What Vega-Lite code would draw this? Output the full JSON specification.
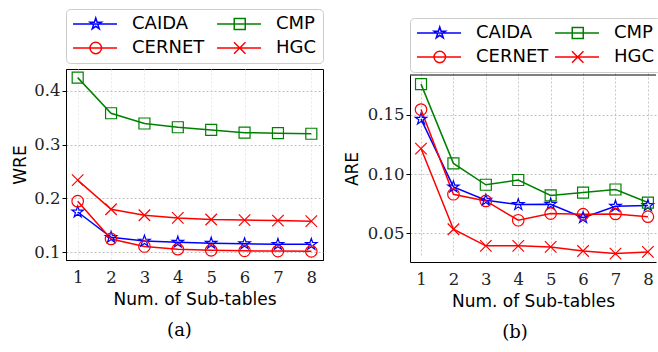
{
  "$schema": "https://vega.github.io/schema/vega-lite/v6.json",
  "padding": {"left": 11, "top": 8, "right": 0, "bottom": 0},
  "spacing": 19,
  "config": {
    "view": {"stroke": "black", "strokeWidth": 1},
    "axis": {"domainColor": "black", "domainWidth": 1, "tickColor": "black", "tickSize": 4, "labelFont": "DejaVu Serif", "labelFontSize": 16.5, "labelColor": "#222222", "labelOverlap": false, "titleFont": "DejaVu Sans", "titleFontSize": 17, "titleFontWeight": "normal", "titleColor": "black", "gridDash": [2, 2], "gridColor": "#b0b0b0", "gridWidth": 0.8},
    "legend": {"orient": "none", "legendX": 0, "columns": 2, "labelFont": "DejaVu Sans", "labelFontSize": 18, "labelColor": "black", "labelOffset": 42, "columnPadding": 9, "rowPadding": 6, "padding": 6, "strokeColor": "#cccccc", "fillColor": "white", "cornerRadius": 4, "symbolSize": 100, "symbolStrokeWidth": 1.5},
    "title": {"font": "DejaVu Serif", "fontSize": 18, "fontWeight": "normal", "orient": "bottom", "frame": "group", "offset": 14, "color": "black"}
  },
  "hconcat": [
    {
      "width": 257,
      "height": 191,
      "title": {"text": "(a)", "dx": -15},
      "data": {"values": [
        {"dataset": "CAIDA", "tables": 1, "value": 0.175}, {"dataset": "CAIDA", "tables": 2, "value": 0.128}, {"dataset": "CAIDA", "tables": 3, "value": 0.121}, {"dataset": "CAIDA", "tables": 4, "value": 0.119}, {"dataset": "CAIDA", "tables": 5, "value": 0.117}, {"dataset": "CAIDA", "tables": 6, "value": 0.116}, {"dataset": "CAIDA", "tables": 7, "value": 0.115}, {"dataset": "CAIDA", "tables": 8, "value": 0.115},
        {"dataset": "CERNET", "tables": 1, "value": 0.195}, {"dataset": "CERNET", "tables": 2, "value": 0.125}, {"dataset": "CERNET", "tables": 3, "value": 0.111}, {"dataset": "CERNET", "tables": 4, "value": 0.106}, {"dataset": "CERNET", "tables": 5, "value": 0.104}, {"dataset": "CERNET", "tables": 6, "value": 0.103}, {"dataset": "CERNET", "tables": 7, "value": 0.1025}, {"dataset": "CERNET", "tables": 8, "value": 0.102},
        {"dataset": "CMP", "tables": 1, "value": 0.424}, {"dataset": "CMP", "tables": 2, "value": 0.358}, {"dataset": "CMP", "tables": 3, "value": 0.339}, {"dataset": "CMP", "tables": 4, "value": 0.332}, {"dataset": "CMP", "tables": 5, "value": 0.327}, {"dataset": "CMP", "tables": 6, "value": 0.322}, {"dataset": "CMP", "tables": 7, "value": 0.321}, {"dataset": "CMP", "tables": 8, "value": 0.32},
        {"dataset": "HGC", "tables": 1, "value": 0.234}, {"dataset": "HGC", "tables": 2, "value": 0.18}, {"dataset": "HGC", "tables": 3, "value": 0.169}, {"dataset": "HGC", "tables": 4, "value": 0.164}, {"dataset": "HGC", "tables": 5, "value": 0.161}, {"dataset": "HGC", "tables": 6, "value": 0.16}, {"dataset": "HGC", "tables": 7, "value": 0.159}, {"dataset": "HGC", "tables": 8, "value": 0.158}
      ]},
      "layer": [
        {
          "mark": {"type": "line", "strokeWidth": 1.5},
          "encoding": {
            "x": {"field": "tables", "type": "ordinal", "scale": {"type": "point", "padding": 0.35}, "axis": {"labelAngle": 0, "grid": true, "ticks": false, "labelPadding": 9, "titlePadding": 6, "gridColor": "#e2e2e2", "title": "Num. of Sub-tables"}},
            "y": {"field": "value", "type": "quantitative", "scale": {"domain": [0.086, 0.44], "nice": false, "zero": false}, "axis": {"values": [0.1, 0.2, 0.3, 0.4], "format": ".1f", "labelPadding": 2, "titlePadding": 4, "title": "WRE"}},
            "color": {"field": "dataset", "type": "nominal", "scale": {"domain": ["CAIDA", "CERNET", "CMP", "HGC"], "range": ["#0000ff", "#ff0000", "#008000", "#ff0000"]},
              "legend": {"title": null, "legendY": -60, "columnPadding": 9, "encode": {"symbols": {"update": {
                "shape": {"signal": "datum.value === 'CAIDA' ? 'M-1.6,0H7.2M2.95,-1.2L3.2204,-0.3721L4.0913,-0.3708L3.3875,0.1421L3.6553,0.9708L2.95,0.46L2.2447,0.9708L2.5125,0.1421L1.8087,-0.3708L2.6796,-0.3721Z' : datum.value === 'CMP' ? 'M-1.6,0H7.2M1.85,-1.1H4.05V1.1H1.85Z' : datum.value === 'CERNET' ? 'M-1.6,0H7.2M4.1,0A1.15,1.15,0,1,1,1.8,0A1.15,1.15,0,1,1,4.1,0Z' : 'M-1.6,0H7.2M1.8,-1.15L4.1,1.15M1.8,1.15L4.1,-1.15'"},
                "fill": {"value": "transparent"},
                "strokeWidth": {"value": 1.5}}}}}}
          }
        },
        {
          "mark": {"type": "point", "filled": false, "strokeWidth": 1.2, "size": 100, "opacity": 1},
          "encoding": {
            "x": {"field": "tables", "type": "ordinal"},
            "y": {"field": "value", "type": "quantitative"},
            "color": {"field": "dataset", "type": "nominal"},
            "shape": {"field": "dataset", "type": "nominal", "legend": null, "scale": {"domain": ["CAIDA", "CMP", "CERNET", "HGC"], "range": [
              "M0,-1.2L0.2704,-0.3721L1.1413,-0.3708L0.4375,0.1421L0.7053,0.9708L0,0.46L-0.7053,0.9708L-0.4375,0.1421L-1.1413,-0.3708L-0.2704,-0.3721Z",
              "M-1.1,-1.1H1.1V1.1H-1.1Z",
              "M1.15,0A1.15,1.15,0,1,1,-1.15,0A1.15,1.15,0,1,1,1.15,0Z",
              "M-1.15,-1.15L1.15,1.15M-1.15,1.15L1.15,-1.15"]}}
          }
        }
      ]
    },
    {
      "width": 246,
      "height": 193,
      "view": {"stroke": null},
      "title": {"text": "(b)", "dx": -18},
      "layer": [
        {
          "data": {"values": [
            {"dataset": "CAIDA", "tables": 1, "value": 0.1463}, {"dataset": "CAIDA", "tables": 2, "value": 0.0892}, {"dataset": "CAIDA", "tables": 3, "value": 0.078}, {"dataset": "CAIDA", "tables": 4, "value": 0.0743}, {"dataset": "CAIDA", "tables": 5, "value": 0.0746}, {"dataset": "CAIDA", "tables": 6, "value": 0.0633}, {"dataset": "CAIDA", "tables": 7, "value": 0.0729}, {"dataset": "CAIDA", "tables": 8, "value": 0.0735},
            {"dataset": "CERNET", "tables": 1, "value": 0.1544}, {"dataset": "CERNET", "tables": 2, "value": 0.083}, {"dataset": "CERNET", "tables": 3, "value": 0.0774}, {"dataset": "CERNET", "tables": 4, "value": 0.0611}, {"dataset": "CERNET", "tables": 5, "value": 0.0667}, {"dataset": "CERNET", "tables": 6, "value": 0.0662}, {"dataset": "CERNET", "tables": 7, "value": 0.0664}, {"dataset": "CERNET", "tables": 8, "value": 0.0641},
            {"dataset": "CMP", "tables": 1, "value": 0.1758}, {"dataset": "CMP", "tables": 2, "value": 0.109}, {"dataset": "CMP", "tables": 3, "value": 0.091}, {"dataset": "CMP", "tables": 4, "value": 0.095}, {"dataset": "CMP", "tables": 5, "value": 0.082}, {"dataset": "CMP", "tables": 6, "value": 0.0844}, {"dataset": "CMP", "tables": 7, "value": 0.087}, {"dataset": "CMP", "tables": 8, "value": 0.076},
            {"dataset": "HGC", "tables": 1, "value": 0.1215}, {"dataset": "HGC", "tables": 2, "value": 0.0535}, {"dataset": "HGC", "tables": 3, "value": 0.0395}, {"dataset": "HGC", "tables": 4, "value": 0.0395}, {"dataset": "HGC", "tables": 5, "value": 0.0386}, {"dataset": "HGC", "tables": 6, "value": 0.0352}, {"dataset": "HGC", "tables": 7, "value": 0.033}, {"dataset": "HGC", "tables": 8, "value": 0.0344}
          ]},
          "layer": [
            {
              "mark": {"type": "line", "strokeWidth": 1.5},
              "encoding": {
                "x": {"field": "tables", "type": "ordinal", "scale": {"type": "point", "padding": 0.295, "align": 0.576}, "axis": {"labelAngle": 0, "grid": true, "ticks": false, "labelPadding": 9, "titlePadding": 6, "gridColor": "#b8b8b8", "title": "Num. of Sub-tables"}},
                "y": {"field": "value", "type": "quantitative", "scale": {"domain": [0.0259, 0.1835], "range": [193, 6], "nice": false, "zero": false}, "axis": {"values": [0.05, 0.1, 0.15], "format": ".2f", "labelPadding": 2, "titlePadding": 6, "title": "ARE"}},
                "color": {"field": "dataset", "type": "nominal", "scale": {"domain": ["CAIDA", "CERNET", "CMP", "HGC"], "range": ["#0000ff", "#ff0000", "#008000", "#ff0000"]},
                  "legend": {"title": null, "legendY": -51, "columnPadding": 3, "encode": {"symbols": {"update": {
                    "shape": {"signal": "datum.value === 'CAIDA' ? 'M-1.6,0H7.2M2.95,-1.2L3.2204,-0.3721L4.0913,-0.3708L3.3875,0.1421L3.6553,0.9708L2.95,0.46L2.2447,0.9708L2.5125,0.1421L1.8087,-0.3708L2.6796,-0.3721Z' : datum.value === 'CMP' ? 'M-1.6,0H7.2M1.85,-1.1H4.05V1.1H1.85Z' : datum.value === 'CERNET' ? 'M-1.6,0H7.2M4.1,0A1.15,1.15,0,1,1,1.8,0A1.15,1.15,0,1,1,4.1,0Z' : 'M-1.6,0H7.2M1.8,-1.15L4.1,1.15M1.8,1.15L4.1,-1.15'"},
                    "fill": {"value": "transparent"},
                    "strokeWidth": {"value": 1.5}}}}}}
              }
            },
            {
              "mark": {"type": "point", "filled": false, "strokeWidth": 1.2, "size": 100, "opacity": 1},
              "encoding": {
                "x": {"field": "tables", "type": "ordinal"},
                "y": {"field": "value", "type": "quantitative"},
                "color": {"field": "dataset", "type": "nominal"},
                "shape": {"field": "dataset", "type": "nominal", "legend": null, "scale": {"domain": ["CAIDA", "CMP", "CERNET", "HGC"], "range": [
                  "M0,-1.2L0.2704,-0.3721L1.1413,-0.3708L0.4375,0.1421L0.7053,0.9708L0,0.46L-0.7053,0.9708L-0.4375,0.1421L-1.1413,-0.3708L-0.2704,-0.3721Z",
                  "M-1.1,-1.1H1.1V1.1H-1.1Z",
                  "M1.15,0A1.15,1.15,0,1,1,-1.15,0A1.15,1.15,0,1,1,1.15,0Z",
                  "M-1.15,-1.15L1.15,1.15M-1.15,1.15L1.15,-1.15"]}}
              }
            }
          ]
        },
        {
          "data": {"values": [{"edge": "top"}]},
          "mark": {"type": "rule", "color": "black", "strokeWidth": 1},
          "encoding": {"y": {"datum": 0.1835}}
        }
      ]
    }
  ],
  "resolve": {"scale": {"color": "independent", "shape": "independent", "x": "independent", "y": "independent"}, "legend": {"color": "independent", "shape": "independent"}}
}
